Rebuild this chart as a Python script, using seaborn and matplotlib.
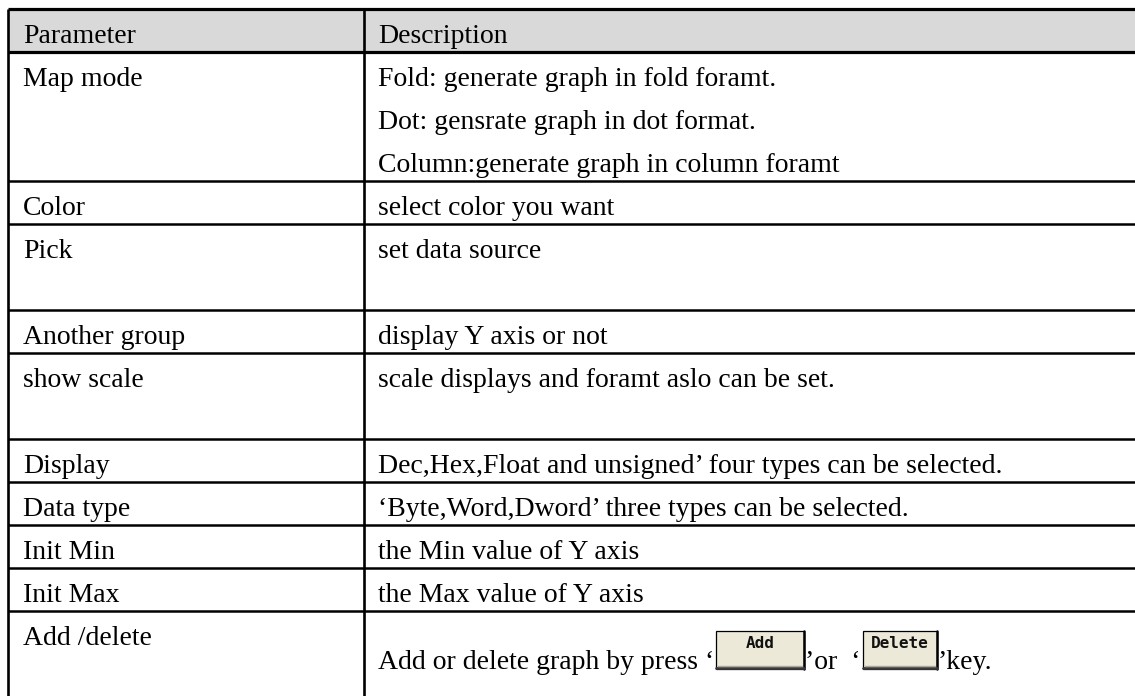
import matplotlib
matplotlib.use("Agg")
import matplotlib.pyplot as plt
from matplotlib.patches import Rectangle
import seaborn as sns

# table content
headers = ["Parameter", "Description"]
parameters = ["Map mode", "Color", "Pick", "Another group", "show scale",
              "Display", "Data type", "Init Min", "Init Max", "Add /delete"]
descriptions = [
    ["Fold: generate graph in fold foramt.",
     "Dot: gensrate graph in dot format.",
     "Column:generate graph in column foramt"],
    ["select color you want"],
    ["set data source", ""],
    ["display Y axis or not"],
    ["scale displays and foramt aslo can be set.", ""],
    ["Dec,Hex,Float and unsigned\u2019 four types can be selected."],
    ["\u2018Byte,Word,Dword\u2019 three types can be selected."],
    ["the Min value of Y axis"],
    ["the Max value of Y axis"],
    ["", ""],
]
# last row: text interleaved with two button images
add_text_parts = ["Add or delete graph by press \u2018", "\u2019or  \u2018", "\u2019key."]
button_labels = ["Add", "Delete"]

# layout (pixels)
W, H = 1135, 696
X_LEFT, X_DIV = 8, 364
TOP, HEAD_H, LINE_H, BASE = 9, 43, 43, 34
PAD = 15

sns.set_theme(style="white")
plt.rcParams["font.family"] = ["Liberation Serif", "DejaVu Serif"]
FS = 20

fig = plt.figure(figsize=(W / 100, H / 100), dpi=100)
ax = fig.add_axes([0, 0, 1, 1])
ax.set_xlim(0, W)
ax.set_ylim(H, 0)
ax.axis("off")

# header
ax.add_patch(Rectangle((X_LEFT, TOP), W - X_LEFT, HEAD_H, facecolor="#d9d9d9", edgecolor="none"))
ax.text(X_LEFT + PAD, TOP + BASE, headers[0], fontsize=FS, va="baseline", color="black")
ax.text(X_DIV + PAD - 1, TOP + BASE, headers[1], fontsize=FS, va="baseline", color="black")
ax.hlines([TOP, TOP + HEAD_H], X_LEFT, W, color="black", lw=2.3)

# body rows
y = TOP + HEAD_H
row_tops = []
for param, desc in zip(parameters, descriptions):
    row_tops.append(y)
    ax.text(X_LEFT + PAD, y + BASE, param, fontsize=FS, va="baseline", color="black")
    for i, line in enumerate(desc):
        if line:
            ax.text(X_DIV + PAD - 1, y + BASE + i * LINE_H, line, fontsize=FS,
                    va="baseline", color="black")
    y += LINE_H * len(desc)
    ax.hlines(y, X_LEFT, W, color="black", lw=1.8)

ax.vlines([X_LEFT, X_DIV], TOP, y, color="black", lw=1.9)

# inline buttons in last row
fig.canvas.draw()
renderer = fig.canvas.get_renderer()
inv = ax.transData.inverted()
base_y = row_tops[-1] + 58
btn_top, btn_bot = row_tops[-1] + 20, base_y
btn_widths = [88, 74]
x = X_DIV + PAD - 1
for k, part in enumerate(add_text_parts):
    t = ax.text(x, base_y, part, fontsize=FS, va="baseline", color="black")
    bb = t.get_window_extent(renderer).transformed(inv)
    x = bb.x1 + 2
    if k < len(button_labels):
        bw = btn_widths[k]
        ax.add_patch(Rectangle((x, btn_top), bw, btn_bot - btn_top, facecolor="#ece9d8",
                               edgecolor="black", lw=0.9))
        ax.plot([x + bw, x + bw], [btn_top, btn_bot], color="black", lw=1.8)
        ax.plot([x, x + bw], [btn_bot - 1, btn_bot - 1], color="#3a3a3a", lw=2.0)
        ax.plot([x + 2, x + bw - 2], [btn_bot - 3.5, btn_bot - 3.5], color="#aca899", lw=1.0)
        ax.text(x + bw / 2, btn_top + 12, button_labels[k], fontsize=11.5,
                fontfamily="DejaVu Sans Mono", fontweight="bold", ha="center", va="center",
                color="#111111")
        x += bw + 1

fig.savefig("out.png", dpi=100, facecolor="white")
